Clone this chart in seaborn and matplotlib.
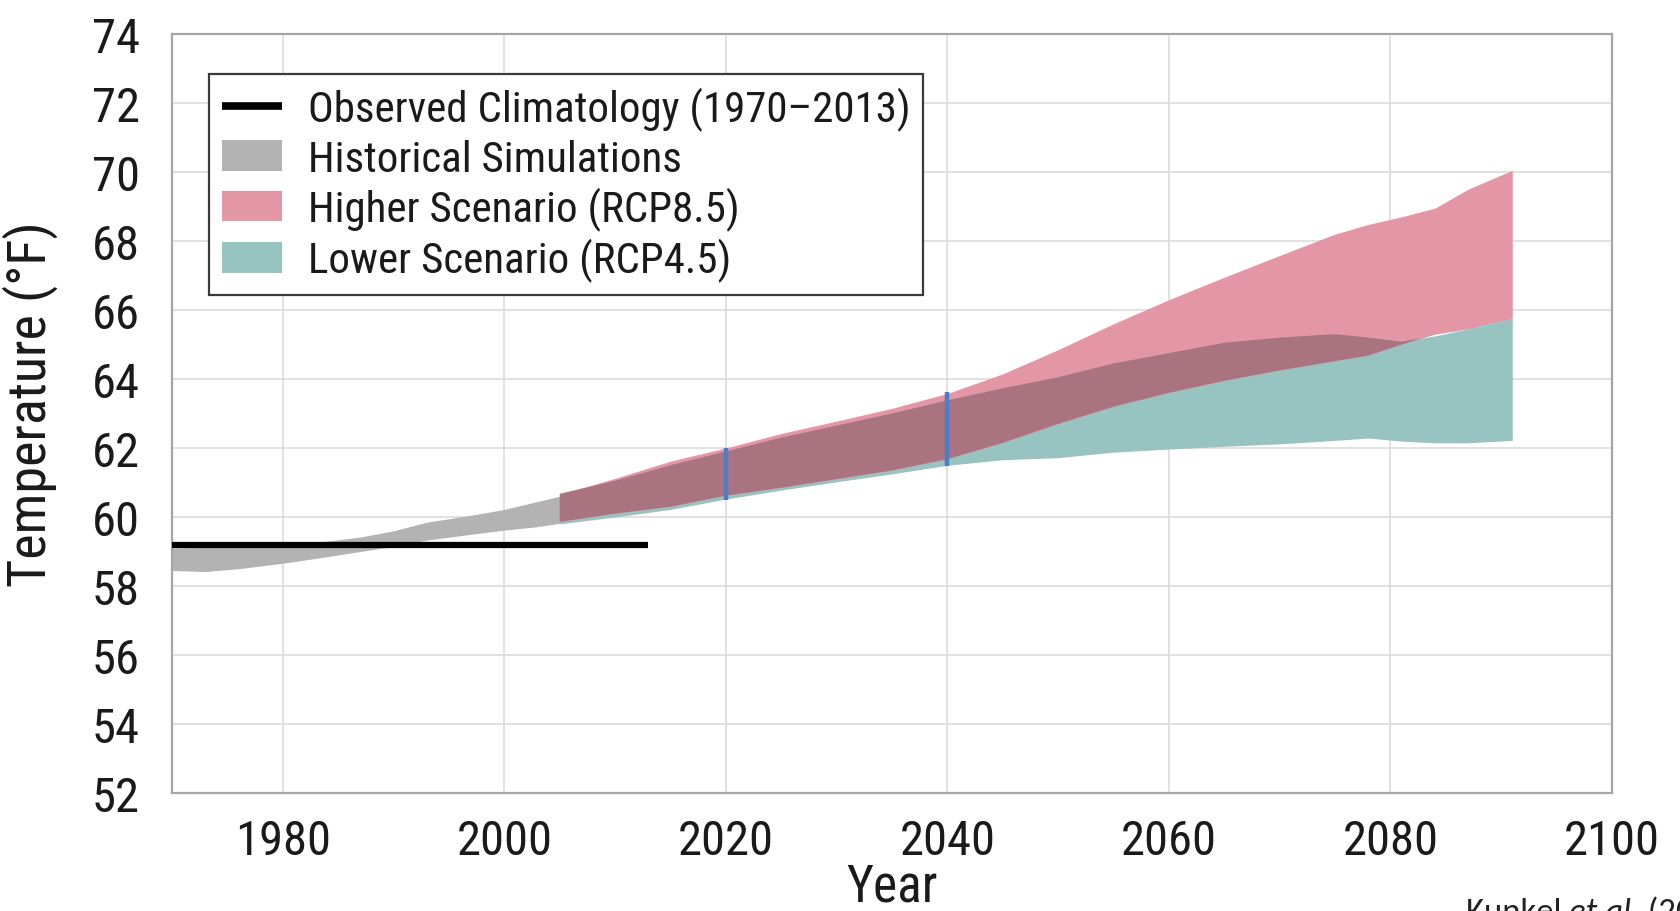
import numpy as np
import pandas as pd
import matplotlib
matplotlib.use("Agg")
import matplotlib.pyplot as plt
import seaborn as sns
from matplotlib.patches import Patch
from matplotlib.lines import Line2D

# ---------------- data ----------------
hist_years = [1970, 1973, 1976, 1980, 1984, 1987, 1990, 1993, 1997, 2000, 2003, 2005]
hist_low = [58.45, 58.42, 58.50, 58.66, 58.85, 59.00, 59.15, 59.33, 59.50, 59.62, 59.72, 59.82]
hist_high = [59.10, 59.12, 59.15, 59.22, 59.30, 59.42, 59.60, 59.85, 60.05, 60.22, 60.45, 60.60]

fut_years = [2005, 2010, 2015, 2020, 2025, 2030, 2035, 2040, 2045, 2050,
             2055, 2060, 2065, 2070, 2075, 2078, 2081, 2084, 2087, 2091]
rcp85_high = [60.66, 61.12, 61.62, 62.00, 62.42, 62.78, 63.15, 63.58, 64.15, 64.85,
              65.60, 66.30, 66.95, 67.58, 68.20, 68.48, 68.70, 68.95, 69.50, 70.05]
rcp85_low = [59.86, 60.10, 60.30, 60.62, 60.85, 61.10, 61.35, 61.68, 62.15, 62.70,
             63.20, 63.60, 63.95, 64.25, 64.52, 64.68, 65.00, 65.30, 65.45, 65.75]
rcp45_high = [60.70, 61.05, 61.50, 61.90, 62.30, 62.65, 63.00, 63.38, 63.73, 64.05,
              64.45, 64.75, 65.05, 65.20, 65.30, 65.20, 65.08, 65.25, 65.45, 65.75]
rcp45_low = [59.80, 60.00, 60.22, 60.52, 60.78, 61.02, 61.25, 61.50, 61.66, 61.72,
             61.88, 61.97, 62.05, 62.12, 62.22, 62.29, 62.20, 62.15, 62.15, 62.22]

obs_years = [1970, 2013]
obs_value = [59.2, 59.2]

bar_years = [2020, 2040]
bar_low = [60.50, 61.48]
bar_high = [62.00, 63.62]

x_ticks = [1980, 2000, 2020, 2040, 2060, 2080, 2100]
y_ticks = [52, 54, 56, 58, 60, 62, 64, 66, 68, 70, 72, 74]

labels = ["Observed Climatology (1970\u20132013)", "Historical Simulations",
          "Higher Scenario (RCP8.5)", "Lower Scenario (RCP4.5)"]

# ---------------- style ----------------
sns.set_theme(style="whitegrid")
FONT = ["Roboto Condensed", "Liberation Sans", "DejaVu Sans"]
plt.rcParams["font.family"] = FONT

C_GRAY = "#b3b3b3"
C_PINK = "#e396a6"
C_TEAL = "#97c3c0"
C_OVER = "#aa7380"
C_BLUE = "#4a7ec6"
C_SPINE = "#a6a6a6"
C_TEXT = "#1a1a1a"

fig = plt.figure(figsize=(16.8, 9.12), dpi=100)
ax = fig.add_axes([0.1024, 0.1294, 0.8571, 0.8322])
ax.set_facecolor("white")

fy = np.array(fut_years, dtype=float)
h85 = np.array(rcp85_high); l85 = np.array(rcp85_low)
h45 = np.array(rcp45_high); l45 = np.array(rcp45_low)

ax.fill_between(hist_years, hist_low, hist_high, color=C_GRAY, lw=0, zorder=2)
ax.fill_between(fy, l45, h45, color=C_TEAL, lw=0, zorder=3)
ax.fill_between(fy, l85, h85, color=C_PINK, lw=0, zorder=4)
ov_lo = np.maximum(l85, l45)
ov_hi = np.minimum(h85, h45)
ax.fill_between(fy, ov_lo, ov_hi, where=ov_hi >= ov_lo, interpolate=True,
                color=C_OVER, lw=0, zorder=5)

obs_df = pd.DataFrame({"year": obs_years, "temp": obs_value})
sns.lineplot(data=obs_df, x="year", y="temp", color="black", lw=4.5, ax=ax,
             zorder=6, solid_capstyle="butt")

ax.vlines(bar_years, bar_low, bar_high, colors=C_BLUE, lw=3.2, zorder=7)

ax.set_xlim(1970, 2100)
ax.set_ylim(52, 74)
ax.set_xticks(x_ticks)
ax.set_yticks(y_ticks)
ax.grid(True, color="#dcdcdc", lw=1.2)
ax.set_axisbelow(True)
for s in ax.spines.values():
    s.set_visible(True)
    s.set_color(C_SPINE)
    s.set_linewidth(1.6)

ax.tick_params(axis="both", which="major", labelsize=35, colors=C_SPINE,
               labelcolor=C_TEXT, direction="out", width=1.4)
ax.tick_params(axis="y", length=11, pad=12)
ax.tick_params(axis="x", length=12, pad=6)

ax.set_xlabel("Year", fontsize=37, color=C_TEXT)
ax.set_ylabel("Temperature (\u00b0F)", fontsize=39, color=C_TEXT)
ax.xaxis.set_label_coords(0.5, -0.09)
ax.yaxis.set_label_coords(-0.079, 0.513)

handles = [Line2D([], [], color="black", lw=5.5, solid_capstyle="butt"),
           Patch(facecolor=C_GRAY, lw=0),
           Patch(facecolor=C_PINK, lw=0),
           Patch(facecolor=C_TEAL, lw=0)]
leg = ax.legend(handles, labels, loc="upper left", bbox_to_anchor=(0.026, 0.947),
                borderaxespad=0, fontsize=31, frameon=True, fancybox=False,
                framealpha=1, edgecolor="#3a3a3a", labelspacing=0.17,
                handlelength=1.38, handleheight=0.7, handletextpad=0.6,
                borderpad=0.3)
leg.get_frame().set_linewidth(1.6)
leg.set_zorder(10)
for t in leg.get_texts():
    t.set_color(C_TEXT)

KFONT = ["Carlito", "Liberation Sans", "DejaVu Sans"]
ytop = 1 - 898 / 912
t1 = fig.text(1466 / 1680, ytop, "Kunkel ", fontsize=25, color="#222222",
              va="top", ha="left", family=KFONT)
fig.canvas.draw()
r = fig.canvas.get_renderer()
bb = t1.get_window_extent(r)
t2 = fig.text(bb.x1 / 1680, ytop, "et al.", fontsize=25, color="#222222",
              va="top", ha="left", style="italic", family=KFONT)
bb2 = t2.get_window_extent(r)
fig.text(bb2.x1 / 1680, ytop, " (2017)", fontsize=25, color="#222222",
         va="top", ha="left", family=KFONT)

fig.savefig("out.png", dpi=100)
